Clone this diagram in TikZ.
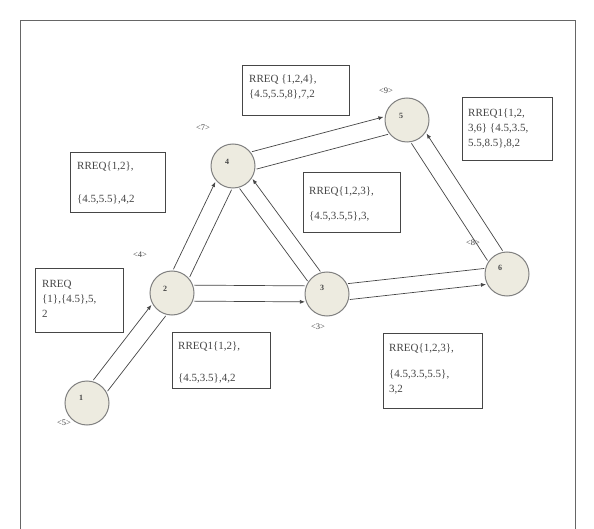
\documentclass[tikz,border=0pt]{standalone}
\usepackage{fontspec}
\setmainfont{Liberation Serif}
\usetikzlibrary{calc,arrows.meta}
\definecolor{nodefill}{RGB}{237,235,224}
\definecolor{nodeedge}{RGB}{128,128,128}
\definecolor{inkgray}{RGB}{70,70,70}
% two parallel lines between routers #1 and #2, half spacing #3;
% \tubeR puts the tip on the clockwise side, \tubeL on the other one
\newcommand\tubeR[3]{%
  \draw[link] ($(#1)!22pt!(#2)!#3!90:(#2)$) -- ($(#2)!22pt!(#1)!#3!-90:(#1)$);
  \draw[link,tip] ($(#1)!22pt!(#2)!#3!-90:(#2)$) -- ($(#2)!22pt!(#1)!#3!90:(#1)$);
}
\newcommand\tubeL[3]{%
  \draw[link] ($(#1)!22pt!(#2)!#3!-90:(#2)$) -- ($(#2)!22pt!(#1)!#3!90:(#1)$);
  \draw[link,tip] ($(#1)!22pt!(#2)!#3!90:(#2)$) -- ($(#2)!22pt!(#1)!#3!-90:(#1)$);
}
\begin{document}
\begin{tikzpicture}[x=1pt,y=-1pt,
  router/.style={circle,draw=nodeedge,fill=nodefill,line width=1pt,minimum size=44pt,inner sep=0pt},
  numlbl/.style={font=\fontsize{8}{9}\selectfont\bfseries,text=inkgray,inner sep=0pt},
  seqlbl/.style={font=\fontsize{8.5}{10}\selectfont,text=black!75,inner sep=0pt},
  msgbox/.style={draw=inkgray,line width=0.8pt,anchor=north west,inner sep=0pt},
  msgtext/.style={font=\fontsize{11}{15}\selectfont,text=inkgray,align=left,anchor=north west,inner sep=0pt},
  link/.style={draw=inkgray,line width=0.7pt},
  tip/.style={-{Latex[length=5pt,width=4pt]}}
]
\useasboundingbox (0,0) rectangle (594,529);
\fill[white] (0,0) rectangle (594,529);
\draw[draw=black!60,line width=0.8pt] (20,540) -- (20,20) -- (575,20) -- (575,540);

% routers
\node[router] (n1) at (87,403) {};
\node[router] (n2) at (172,293) {};
\node[router] (n3) at (327,294) {};
\node[router] (n4) at (233,166) {};
\node[router] (n5) at (407,120) {};
\node[router] (n6) at (507,274) {};
\node[numlbl] (l1) at ([shift={(-6,-5)}]n1) {1};
\node[numlbl] (l2) at ([shift={(-7,-4)}]n2) {2};
\node[numlbl] (l3) at ([shift={(-5,-6)}]n3) {3};
\node[numlbl] (l4) at ([shift={(-6,-4)}]n4) {4};
\node[numlbl] (l5) at ([shift={(-6,-4)}]n5) {5};
\node[numlbl] (l6) at ([shift={(-7,-6)}]n6) {6};

% sequence tags
\node[seqlbl] (s1) at (64,423) {<5>};
\node[seqlbl] (s2) at (140,255) {<4>};
\node[seqlbl] (s4) at (203,128) {<7>};
\node[seqlbl] (s5) at (386,91) {<9>};
\node[seqlbl] (s6) at (473,243) {<8>};
\node[seqlbl] (s3) at (318,327) {<3>};

% links
\tubeL{n1}{n2}{9pt}
\tubeL{n2}{n4}{9pt}
\tubeR{n2}{n3}{8pt}
\tubeR{n3}{n4}{8pt}
\tubeL{n4}{n5}{9pt}
\tubeR{n3}{n6}{8pt}
\tubeR{n6}{n5}{9pt}

% route request boxes
\node[msgbox,minimum width=88pt,minimum height=64pt] (bA) at (35,268) {};
\node[msgtext] (tA) at ([shift={(7,12)}]bA.north west) {RREQ\\{\{1\},\{4.5\},5,}\\2};
\node[msgbox,minimum width=95pt,minimum height=60pt] (bB) at (70,152) {};
\node[msgtext] (tB) at ([shift={(7,10)}]bB.north west) {RREQ\{1,2\},\\[18pt]\{4.5,5.5\},4,2};
\node[msgbox,minimum width=107pt,minimum height=50pt] (bC) at (242,65) {};
\node[msgtext] (tC) at ([shift={(7,10)}]bC.north west) {RREQ \{1,2,4\},\\\{4.5,5.5,8\},7,2};
\node[msgbox,minimum width=90pt,minimum height=63pt] (bD) at (462,97) {};
\node[msgtext] (tD) at ([shift={(6,12)}]bD.north west) {RREQ1\{1,2,\\3,6\} \{4.5,3.5,\\5.5,8.5\},8,2};
\node[msgbox,minimum width=97pt,minimum height=60pt] (bE) at (303,172) {};
\node[msgtext] (tE) at ([shift={(6,15)}]bE.north west) {RREQ\{1,2,3\},\\[10pt]\{4.5,3.5,5\},3,};
\node[msgbox,minimum width=98pt,minimum height=56pt] (bF) at (172,332) {};
\node[msgtext] (tF) at ([shift={(6,10)}]bF.north west) {RREQ1\{1,2\},\\[17pt]\{4.5,3.5\},4,2};
\node[msgbox,minimum width=99pt,minimum height=75pt] (bG) at (383,333) {};
\node[msgtext] (tG) at ([shift={(6,11)}]bG.north west) {RREQ\{1,2,3\},\\[11pt]\{4.5,3.5,5.5\},\\3,2};
\end{tikzpicture}
\end{document}
